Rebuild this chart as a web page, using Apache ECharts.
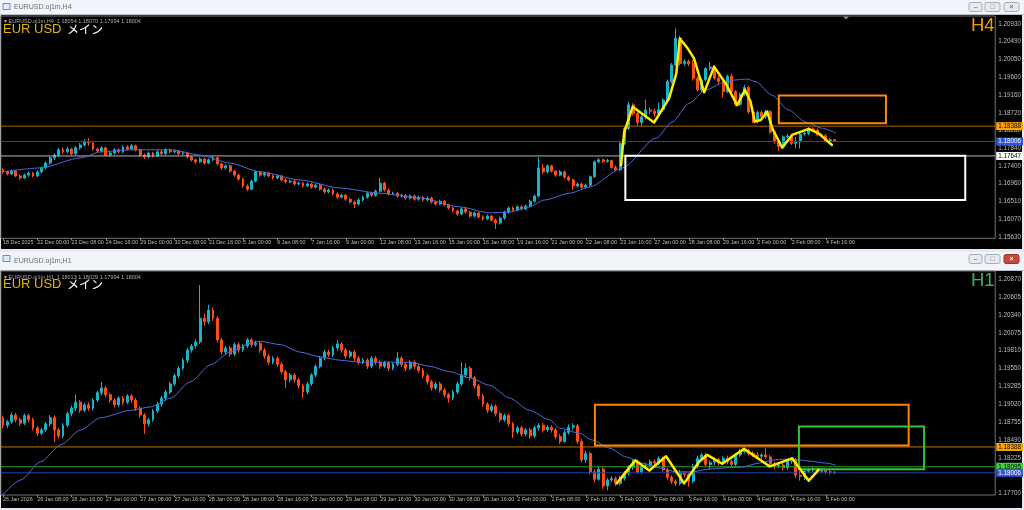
<!DOCTYPE html>
<html>
<head>
<meta charset="utf-8">
<script src="https://cdn.jsdelivr.net/npm/echarts@6/dist/echarts.min.js"></script>
<style>
html,body{margin:0;padding:0;background:#e6eaf0;}
#c{width:1024px;height:510px;}
</style>
</head>
<body>
<div id="c"></div>
<script>
// ===== EURUSD H4 =====
const h4Header = '\u25BE EURUSD.oj1m,H4  1.18054 1.18070 1.17994 1.18004';
const h4TimeLabels = ['18 Dec 2025','22 Dec 00:00','23 Dec 08:00','24 Dec 16:00','29 Dec 00:00','30 Dec 08:00','31 Dec 16:00','5 Jan 00:00','6 Jan 08:00','7 Jan 16:00','9 Jan 00:00','12 Jan 08:00','13 Jan 16:00','15 Jan 00:00','16 Jan 08:00','19 Jan 16:00','21 Jan 00:00','22 Jan 08:00','23 Jan 16:00','27 Jan 00:00','28 Jan 08:00','29 Jan 16:00','2 Feb 00:00','3 Feb 08:00','4 Feb 16:00'];
const h4PriceTicks = ['1.20930','1.20490','1.20050','1.19600','1.19160','1.18720','1.18280','1.17840','1.17400','1.16960','1.16510','1.16070','1.15630'];
// [open, close, low, high], one line per 8 bars (one time label)
const h4Bars = [
[1.1730,1.1725,1.1720,1.1734],[1.1725,1.1720,1.1716,1.1728],[1.1720,1.1727,1.1717,1.1731],[1.1727,1.1715,1.1712,1.1730],[1.1715,1.1710,1.1705,1.1719],[1.1710,1.1717,1.1707,1.1721],[1.1717,1.1722,1.1713,1.1726],[1.1722,1.1715,1.1711,1.1725],
[1.1715,1.1725,1.1712,1.1729],[1.1725,1.1735,1.1721,1.1738],[1.1735,1.1747,1.1731,1.1751],[1.1747,1.1760,1.1743,1.1764],[1.1760,1.1767,1.1755,1.1771],[1.1767,1.1780,1.1763,1.1785],[1.1780,1.1775,1.1770,1.1786],[1.1775,1.1782,1.1771,1.1788],
[1.1782,1.1770,1.1766,1.1785],[1.1770,1.1785,1.1767,1.1790],[1.1785,1.1792,1.1780,1.1797],[1.1792,1.1799,1.1788,1.1806],[1.1799,1.1797,1.1790,1.1809],[1.1797,1.1782,1.1778,1.1800],[1.1782,1.1777,1.1772,1.1786],[1.1777,1.1785,1.1773,1.1789],
[1.1785,1.1767,1.1763,1.1788],[1.1767,1.1772,1.1763,1.1776],[1.1772,1.1780,1.1768,1.1784],[1.1780,1.1775,1.1771,1.1784],[1.1775,1.1787,1.1772,1.1791],[1.1787,1.1782,1.1778,1.1791],[1.1782,1.1790,1.1779,1.1795],[1.1790,1.1780,1.1776,1.1793],
[1.1780,1.1767,1.1763,1.1783],[1.1767,1.1762,1.1757,1.1771],[1.1762,1.1772,1.1759,1.1776],[1.1772,1.1765,1.1761,1.1775],[1.1765,1.1775,1.1762,1.1779],[1.1775,1.1770,1.1766,1.1779],[1.1770,1.1780,1.1767,1.1784],[1.1780,1.1775,1.1771,1.1783],
[1.1775,1.1777,1.1771,1.1781],[1.1777,1.1770,1.1766,1.1780],[1.1770,1.1772,1.1766,1.1776],[1.1772,1.1762,1.1758,1.1775],[1.1762,1.1755,1.1751,1.1766],[1.1755,1.1750,1.1745,1.1758],[1.1750,1.1757,1.1747,1.1761],[1.1757,1.1747,1.1743,1.1760],
[1.1747,1.1755,1.1744,1.1759],[1.1755,1.1760,1.1751,1.1765],[1.1760,1.1745,1.1741,1.1763],[1.1745,1.1735,1.1730,1.1748],[1.1735,1.1740,1.1731,1.1744],[1.1740,1.1727,1.1723,1.1743],[1.1727,1.1717,1.1713,1.1730],[1.1717,1.1707,1.1703,1.1721],
[1.1707,1.1690,1.1685,1.1710],[1.1690,1.1682,1.1677,1.1694],[1.1682,1.1702,1.1679,1.1706],[1.1702,1.1725,1.1699,1.1729],[1.1725,1.1717,1.1713,1.1728],[1.1717,1.1722,1.1713,1.1726],[1.1722,1.1715,1.1711,1.1725],[1.1715,1.1710,1.1706,1.1719],
[1.1710,1.1715,1.1707,1.1719],[1.1715,1.1705,1.1701,1.1718],[1.1705,1.1700,1.1696,1.1709],[1.1700,1.1702,1.1697,1.1706],[1.1702,1.1695,1.1691,1.1705],[1.1695,1.1697,1.1692,1.1701],[1.1697,1.1690,1.1686,1.1700],[1.1690,1.1695,1.1687,1.1699],
[1.1695,1.1687,1.1683,1.1698],[1.1687,1.1692,1.1684,1.1696],[1.1692,1.1682,1.1678,1.1695],[1.1682,1.1675,1.1671,1.1686],[1.1675,1.1680,1.1672,1.1684],[1.1680,1.1670,1.1666,1.1683],[1.1670,1.1662,1.1658,1.1674],[1.1662,1.1667,1.1659,1.1671],
[1.1667,1.1657,1.1653,1.1670],[1.1657,1.1650,1.1646,1.1661],[1.1650,1.1645,1.1635,1.1654],[1.1645,1.1655,1.1641,1.1659],[1.1655,1.1662,1.1651,1.1666],[1.1662,1.1672,1.1658,1.1676],[1.1672,1.1667,1.1663,1.1676],[1.1667,1.1677,1.1663,1.1681],
[1.1677,1.1697,1.1674,1.1710],[1.1697,1.1680,1.1676,1.1700],[1.1680,1.1670,1.1666,1.1684],[1.1670,1.1672,1.1667,1.1676],[1.1672,1.1665,1.1661,1.1675],[1.1665,1.1667,1.1661,1.1671],[1.1667,1.1660,1.1656,1.1670],[1.1660,1.1665,1.1657,1.1669],
[1.1665,1.1657,1.1653,1.1668],[1.1657,1.1662,1.1654,1.1666],[1.1662,1.1655,1.1651,1.1665],[1.1655,1.1660,1.1652,1.1664],[1.1660,1.1650,1.1646,1.1663],[1.1650,1.1645,1.1641,1.1654],[1.1645,1.1652,1.1642,1.1656],[1.1652,1.1643,1.1639,1.1655],
[1.1643,1.1635,1.1631,1.1646],[1.1635,1.1628,1.1624,1.1639],[1.1628,1.1620,1.1616,1.1631],[1.1620,1.1633,1.1617,1.1637],[1.1633,1.1625,1.1621,1.1636],[1.1625,1.1615,1.1611,1.1628],[1.1615,1.1623,1.1612,1.1627],[1.1623,1.1613,1.1609,1.1626],
[1.1613,1.1608,1.1604,1.1617],[1.1608,1.1615,1.1605,1.1619],[1.1615,1.1605,1.1601,1.1618],[1.1605,1.1598,1.1583,1.1609],[1.1598,1.1610,1.1594,1.1614],[1.1610,1.1625,1.1606,1.1629],[1.1625,1.1635,1.1621,1.1639],[1.1635,1.1630,1.1626,1.1639],
[1.1630,1.1638,1.1627,1.1642],[1.1638,1.1633,1.1629,1.1642],[1.1633,1.1640,1.1630,1.1644],[1.1640,1.1652,1.1637,1.1656],[1.1652,1.1665,1.1648,1.1669],[1.1665,1.1735,1.1662,1.1762],[1.1735,1.1725,1.1720,1.1745],[1.1725,1.1740,1.1721,1.1744],
[1.1740,1.1727,1.1723,1.1743],[1.1727,1.1717,1.1713,1.1730],[1.1717,1.1725,1.1714,1.1729],[1.1725,1.1712,1.1708,1.1728],[1.1712,1.1705,1.1701,1.1716],[1.1705,1.1690,1.1680,1.1708],[1.1690,1.1695,1.1686,1.1699],[1.1695,1.1687,1.1683,1.1698],
[1.1687,1.1692,1.1684,1.1696],[1.1692,1.1713,1.1688,1.1716],[1.1713,1.1750,1.1710,1.1753],[1.1750,1.1755,1.1747,1.1759],[1.1755,1.1751,1.1747,1.1758],[1.1751,1.1753,1.1748,1.1757],[1.1753,1.1736,1.1733,1.1756],[1.1736,1.1730,1.1726,1.1741],
[1.1730,1.1796,1.1727,1.1799],[1.1796,1.1833,1.1792,1.1837],[1.1833,1.1892,1.1829,1.1899],[1.1892,1.1870,1.1865,1.1896],[1.1870,1.1848,1.1840,1.1874],[1.1848,1.1862,1.1838,1.1866],[1.1862,1.1879,1.1856,1.1905],[1.1879,1.1876,1.1868,1.1885],
[1.1876,1.1870,1.1862,1.1882],[1.1870,1.1880,1.1866,1.1898],[1.1880,1.1904,1.1874,1.1908],[1.1904,1.1950,1.1900,1.1955],[1.1950,1.1991,1.1945,1.1996],[1.1991,1.2058,1.1988,1.2082],[1.2058,1.1995,1.1990,1.2064],[1.1995,1.2000,1.1990,1.2005],
[1.2000,1.1994,1.1988,1.2004],[1.1994,1.1958,1.1952,1.2004],[1.1958,1.1929,1.1925,1.1962],[1.1929,1.1954,1.1924,1.1958],[1.1954,1.1982,1.1950,1.1986],[1.1982,1.1986,1.1978,1.1998],[1.1986,1.1958,1.1954,1.1990],[1.1958,1.1950,1.1944,1.1964],
[1.1950,1.1925,1.1910,1.1954],[1.1925,1.1963,1.1921,1.1967],[1.1963,1.1925,1.1920,1.1970],[1.1925,1.1893,1.1888,1.1929],[1.1893,1.1918,1.1889,1.1922],[1.1918,1.1935,1.1913,1.1942],[1.1935,1.1874,1.1869,1.1939],[1.1874,1.1850,1.1846,1.1878],
[1.1850,1.1873,1.1846,1.1877],[1.1873,1.1862,1.1858,1.1878],[1.1862,1.1875,1.1857,1.1880],[1.1875,1.1824,1.1820,1.1879],[1.1824,1.1800,1.1795,1.1828],[1.1800,1.1788,1.1777,1.1803],[1.1788,1.1812,1.1785,1.1816],[1.1812,1.1814,1.1808,1.1819],
[1.1814,1.1796,1.1792,1.1818],[1.1796,1.1800,1.1784,1.1812],[1.1800,1.1819,1.1783,1.1823],[1.1819,1.1821,1.1815,1.1825],[1.1821,1.1832,1.1817,1.1836],[1.1832,1.1829,1.1825,1.1836],[1.1829,1.1817,1.1813,1.1833],[1.1817,1.1815,1.1811,1.1821],
[1.1815,1.1802,1.1798,1.1819],[1.1802,1.1805,1.1799,1.1810],[1.18054,1.18004,1.17994,1.18070]
];
// moving average: [bar position, price]
const h4Ma = [[0,1.1725],[8.8,1.1735],[18.1,1.1760],[22.8,1.1775],[29.8,1.1780],[39.1,1.1780],[46,1.1767],[53,1.1747],[60,1.1725],[69.3,1.1705],[78.6,1.1685],[87.9,1.1672],[97.2,1.1660],[106.6,1.1638],[113.5,1.1623],[118.2,1.1625],[122.8,1.1638],[126.3,1.1655],[132.2,1.1672],[136.8,1.1687],[144.5,1.1735],[152.4,1.1809],[156.1,1.1849],[160.1,1.1896],[164,1.1929],[167.8,1.1946],[171,1.1954],[173.6,1.1956],[175.7,1.1949],[179.4,1.1916],[183.3,1.1879],[187.3,1.1849],[191,1.1834],[194.3,1.1822]];
// hand-drawn swing line
const h4Zigzag = [[144.2,1.1742],[144.9,1.1822],[146.9,1.1887],[151.9,1.1848],[155.4,1.1908],[157.1,1.1970],[157.9,1.2057],[159.7,1.2033],[161.2,1.2008],[163.6,1.1923],[165.9,1.1987],[168.6,1.1945],[171.3,1.1891],[173.1,1.1929],[174.4,1.1900],[175.4,1.1850],[176.8,1.1854],[178.3,1.1875],[179.5,1.1833],[181.8,1.1785],[184.1,1.1817],[188.0,1.1832],[190.3,1.1821],[193.4,1.1792]];
// zones: [bar from, price, bar to, price]
const h4OrangeBox = [181.0, 1.1915, 206.0, 1.1846];
const h4WhiteBox = [145.2, 1.1765, 224.5, 1.1655];
const h4OrangeLevel = 1.18388, h4BlueLevel = 1.18006, h4WhiteLevel = 1.17647;

// ===== EURUSD H1 =====
const h1Header = '\u25BE EURUSD.oj1m,H1  1.18013 1.18029 1.17994 1.18004';
const h1TimeLabels = ['26 Jan 2026','26 Jan 08:00','26 Jan 16:00','27 Jan 00:00','27 Jan 08:00','27 Jan 16:00','28 Jan 00:00','28 Jan 08:00','28 Jan 16:00','29 Jan 00:00','29 Jan 08:00','29 Jan 16:00','30 Jan 00:00','30 Jan 08:00','30 Jan 16:00','2 Feb 00:00','2 Feb 08:00','2 Feb 16:00','3 Feb 00:00','3 Feb 08:00','3 Feb 16:00','4 Feb 00:00','4 Feb 08:00','4 Feb 16:00','5 Feb 00:00'];
const h1PriceTicks = ['1.20870','1.20605','1.20340','1.20075','1.19810','1.19550','1.19285','1.19020','1.18755','1.18490','1.18225','1.17700'];
const h1Bars = [
[1.1882,1.1871,1.1866,1.1885],[1.1871,1.1876,1.1867,1.1879],[1.1876,1.1886,1.1873,1.1890],[1.1886,1.1879,1.1875,1.1889],[1.1879,1.1874,1.1870,1.1882],[1.1874,1.1885,1.1871,1.1888],[1.1885,1.1879,1.1875,1.1888],[1.1879,1.1867,1.1863,1.1882],
[1.1867,1.1859,1.1855,1.1870],[1.1859,1.1864,1.1856,1.1867],[1.1864,1.1873,1.1861,1.1876],[1.1873,1.1882,1.1869,1.1886],[1.1882,1.1864,1.1846,1.1885],[1.1864,1.1855,1.1851,1.1867],[1.1855,1.1871,1.1852,1.1874],[1.1871,1.1888,1.1868,1.1891],
[1.1888,1.1896,1.1884,1.1900],[1.1896,1.1905,1.1892,1.1916],[1.1905,1.1893,1.1889,1.1908],[1.1893,1.1901,1.1890,1.1904],[1.1901,1.1896,1.1892,1.1905],[1.1896,1.1908,1.1893,1.1911],[1.1908,1.1919,1.1905,1.1922],[1.1919,1.1926,1.1915,1.1935],
[1.1926,1.1916,1.1912,1.1929],[1.1916,1.1908,1.1904,1.1919],[1.1908,1.1901,1.1897,1.1911],[1.1901,1.1911,1.1898,1.1914],[1.1911,1.1905,1.1901,1.1914],[1.1905,1.1914,1.1902,1.1917],[1.1914,1.1908,1.1904,1.1917],[1.1908,1.1896,1.1892,1.1911],
[1.1896,1.1886,1.1882,1.1899],[1.1886,1.1873,1.1858,1.1889],[1.1873,1.1879,1.1869,1.1882],[1.1879,1.1892,1.1876,1.1895],[1.1892,1.1902,1.1889,1.1905],[1.1902,1.1911,1.1898,1.1914],[1.1911,1.1920,1.1907,1.1923],[1.1920,1.1932,1.1917,1.1935],
[1.1932,1.1944,1.1929,1.1947],[1.1944,1.1955,1.1941,1.1958],[1.1955,1.1967,1.1952,1.1970],[1.1967,1.1982,1.1963,1.1985],[1.1982,1.1988,1.1978,1.1991],[1.1988,1.1994,1.1984,1.1998],[1.1994,1.2029,1.1991,1.2078],[1.2029,1.2024,1.2018,1.2036],
[1.2024,1.2041,1.2020,1.2049],[1.2041,1.2029,1.2025,1.2045],[1.2029,1.1997,1.1993,1.2032],[1.1997,1.1979,1.1975,1.2000],[1.1979,1.1985,1.1975,1.1988],[1.1985,1.1976,1.1972,1.1988],[1.1976,1.1990,1.1973,1.1993],[1.1990,1.1982,1.1978,1.1993],
[1.1982,1.1988,1.1979,1.1991],[1.1988,1.1997,1.1985,1.2000],[1.1997,1.1990,1.1986,1.2000],[1.1990,1.1992,1.1987,1.1996],[1.1992,1.1982,1.1978,1.1995],[1.1982,1.1973,1.1969,1.1985],[1.1973,1.1964,1.1960,1.1976],[1.1964,1.1970,1.1961,1.1973],
[1.1970,1.1961,1.1957,1.1973],[1.1961,1.1950,1.1946,1.1964],[1.1950,1.1938,1.1926,1.1953],[1.1938,1.1945,1.1934,1.1948],[1.1945,1.1938,1.1934,1.1948],[1.1938,1.1929,1.1925,1.1941],[1.1929,1.1920,1.1911,1.1932],[1.1920,1.1932,1.1917,1.1935],
[1.1932,1.1945,1.1929,1.1948],[1.1945,1.1958,1.1942,1.1961],[1.1958,1.1970,1.1955,1.1973],[1.1970,1.1979,1.1967,1.1982],[1.1979,1.1975,1.1971,1.1983],[1.1975,1.1985,1.1972,1.1988],[1.1985,1.1991,1.1981,1.1997],[1.1991,1.1982,1.1978,1.1994],
[1.1982,1.1973,1.1969,1.1985],[1.1973,1.1979,1.1970,1.1982],[1.1979,1.1970,1.1966,1.1982],[1.1970,1.1964,1.1960,1.1973],[1.1964,1.1967,1.1961,1.1970],[1.1967,1.1958,1.1954,1.1970],[1.1958,1.1970,1.1955,1.1973],[1.1970,1.1964,1.1960,1.1973],
[1.1964,1.1958,1.1954,1.1967],[1.1958,1.1963,1.1955,1.1966],[1.1963,1.1955,1.1951,1.1966],[1.1955,1.1961,1.1952,1.1964],[1.1961,1.1970,1.1958,1.1979],[1.1970,1.1961,1.1957,1.1973],[1.1961,1.1955,1.1951,1.1964],[1.1955,1.1964,1.1952,1.1967],
[1.1964,1.1958,1.1954,1.1967],[1.1958,1.1952,1.1948,1.1961],[1.1952,1.1944,1.1940,1.1955],[1.1944,1.1935,1.1931,1.1947],[1.1935,1.1926,1.1922,1.1938],[1.1926,1.1932,1.1923,1.1935],[1.1932,1.1923,1.1919,1.1935],[1.1923,1.1916,1.1912,1.1926],
[1.1916,1.1911,1.1904,1.1919],[1.1911,1.1920,1.1908,1.1923],[1.1920,1.1932,1.1917,1.1935],[1.1932,1.1945,1.1929,1.1964],[1.1945,1.1955,1.1941,1.1962],[1.1955,1.1941,1.1937,1.1958],[1.1941,1.1929,1.1925,1.1944],[1.1929,1.1914,1.1910,1.1932],
[1.1914,1.1902,1.1898,1.1917],[1.1902,1.1893,1.1889,1.1905],[1.1893,1.1899,1.1890,1.1902],[1.1899,1.1888,1.1884,1.1902],[1.1888,1.1879,1.1875,1.1891],[1.1879,1.1885,1.1876,1.1888],[1.1885,1.1873,1.1869,1.1888],[1.1873,1.1861,1.1852,1.1876],
[1.1861,1.1867,1.1858,1.1870],[1.1867,1.1858,1.1854,1.1870],[1.1858,1.1864,1.1855,1.1867],[1.1864,1.1855,1.1851,1.1867],[1.1855,1.1867,1.1852,1.1870],[1.1867,1.1871,1.1863,1.1874],[1.1871,1.1864,1.1860,1.1874],[1.1864,1.1868,1.1861,1.1871],
[1.1868,1.1864,1.1860,1.1871],[1.1864,1.1854,1.1850,1.1867],[1.1854,1.1847,1.1843,1.1858],[1.1847,1.1860,1.1845,1.1864],[1.1860,1.1868,1.1857,1.1872],[1.1868,1.1870,1.1864,1.1874],[1.1870,1.1847,1.1843,1.1873],[1.1847,1.1820,1.1816,1.1851],
[1.1820,1.1829,1.1815,1.1833],[1.1829,1.1802,1.1798,1.1832],[1.1802,1.1791,1.1786,1.1806],[1.1791,1.1806,1.1789,1.1810],[1.1806,1.1781,1.1777,1.1809],[1.1781,1.1790,1.1775,1.1793],[1.1790,1.1792,1.1787,1.1796],[1.1792,1.1785,1.1781,1.1795],
[1.1785,1.1792,1.1782,1.1796],[1.1792,1.1800,1.1789,1.1803],[1.1800,1.1809,1.1797,1.1812],[1.1809,1.1817,1.1805,1.1821],[1.1817,1.1802,1.1799,1.1820],[1.1802,1.1810,1.1799,1.1813],[1.1810,1.1812,1.1807,1.1815],[1.1812,1.1817,1.1809,1.1820],
[1.1817,1.1815,1.1810,1.1820],[1.1815,1.1822,1.1812,1.1825],[1.1822,1.1805,1.1802,1.1825],[1.1805,1.1794,1.1790,1.1808],[1.1794,1.1788,1.1784,1.1797],[1.1788,1.1785,1.1781,1.1791],[1.1785,1.1800,1.1782,1.1805],[1.1800,1.1798,1.1794,1.1803],
[1.1798,1.1788,1.1780,1.1800],[1.1788,1.1810,1.1785,1.1814],[1.1810,1.1822,1.1807,1.1826],[1.1822,1.1827,1.1818,1.1830],[1.1827,1.1813,1.1809,1.1830],[1.1813,1.1816,1.1806,1.1819],[1.1816,1.1820,1.1812,1.1823],[1.1820,1.1815,1.1811,1.1823],
[1.1815,1.1822,1.1812,1.1825],[1.1822,1.1817,1.1813,1.1826],[1.1817,1.1813,1.1809,1.1820],[1.1813,1.1827,1.1810,1.1830],[1.1827,1.1832,1.1824,1.1836],[1.1832,1.1834,1.1829,1.1837],[1.1834,1.1829,1.1826,1.1836],[1.1829,1.1827,1.1824,1.1833],
[1.1827,1.1825,1.1822,1.1831],[1.1825,1.1827,1.1821,1.1830],[1.1827,1.1824,1.1821,1.1837],[1.1824,1.1814,1.1810,1.1827],[1.1814,1.1811,1.1806,1.1817],[1.1811,1.1812,1.1807,1.1816],[1.1812,1.1808,1.1804,1.1816],[1.1808,1.1818,1.1805,1.1822],
[1.1818,1.1820,1.1814,1.1824],[1.1820,1.1797,1.1793,1.1823],[1.1797,1.1795,1.1789,1.1803],[1.1795,1.1803,1.1790,1.1806],[1.1803,1.1805,1.1800,1.1808],[1.1805,1.1806,1.1802,1.1809],[1.1806,1.1803,1.1800,1.1808],[1.1803,1.1804,1.1800,1.1807],
[1.1804,1.1802,1.1799,1.1806],[1.1802,1.18013,1.1798,1.1805],[1.18013,1.18004,1.17994,1.18029]
];
const h1Ma = [[-0.5,1.1765],[4.15,1.1790],[8.8,1.1817],[13.5,1.1842],[18.1,1.1864],[22.8,1.1882],[29.75,1.1893],[34.4,1.1898],[39.1,1.1911],[43.7,1.1935],[48.4,1.1960],[53,1.1979],[57.7,1.1992],[60,1.1995],[64.7,1.1990],[69.3,1.1979],[74,1.1972],[78.6,1.1967],[83.3,1.1964],[87.9,1.1964],[94.9,1.1964],[99.6,1.1958],[104.2,1.1950],[108.9,1.1941],[113.5,1.1930],[118.2,1.1911],[122.8,1.1893],[127.5,1.1879],[129.8,1.1867],[134.5,1.1859],[137.5,1.1849],[141.5,1.1837],[145.4,1.1824],[149.1,1.1815],[153.1,1.1808],[157.1,1.1802],[160.8,1.1802],[164.7,1.1806],[168.7,1.1808],[172.4,1.1809],[176.4,1.1815],[180.3,1.1820],[184,1.1821],[188,1.1818],[191.9,1.1815],[194.3,1.1812]];
const h1Zigzag = [[143.2,1.1785],[147.5,1.1819],[150.8,1.1804],[154.7,1.1825],[158.9,1.1785],[162.4,1.1817],[164.3,1.1827],[167.8,1.1814],[172.9,1.1836],[178.9,1.1810],[184.1,1.1822],[188.0,1.1789],[190.3,1.1805]];
const h1OrangeBox = [138.1, 1.1901, 211.3, 1.1841];
const h1GreenBox = [185.7, 1.1869, 214.9, 1.1806];
const h1OrangeLevel = 1.18388, h1GreenLevel = 1.18095, h1BlueLevel = 1.18006;

// ===== layout & style =====
const SLOTS = 232;          // visible bar slots incl. right shift
const PLOT_W = 996;
const FONT = '"Liberation Sans", Arial, sans-serif';
const AXIS_TEXT = '#bdbdbd';
const BULL = '#16b3c9', BEAR = '#ff4d17';
const MA_COLOR = '#4a6ce2';
const ZIG_COLOR = '#ffee00';

const slotNames = Array.from({length: SLOTS}, (_, i) => String(i));
const grids = [], xAxes = [], yAxes = [], series = [];

function boxSeries(k, box, color) {
  return {
    type: 'custom', xAxisIndex: k * 2 + 1, yAxisIndex: k, data: [box], silent: true, clip: false, z: 4,
    encode: {x: [0, 2], y: [1, 3]},
    renderItem: (params, api) => {
      const a = api.coord([api.value(0), api.value(1)]);
      const b = api.coord([api.value(2), api.value(3)]);
      return {type: 'rect',
        shape: {x: Math.min(a[0], b[0]), y: Math.min(a[1], b[1]), width: Math.abs(b[0] - a[0]), height: Math.abs(b[1] - a[1])},
        style: {fill: 'none', stroke: color, lineWidth: 2}};
    }
  };
}

// horizontal price level across the plot, with its price tag on the axis
function levelSeries(k, value, line, tagBg, tagText) {
  return {
    type: 'line', xAxisIndex: k * 2 + 1, yAxisIndex: k, silent: true, z: 3, symbol: 'none',
    data: [[-0.5, value], [SLOTS - 0.5, value]],
    lineStyle: {color: line, width: 1},
    endLabel: {show: true, distance: 1, formatter: value.toFixed(5),
      backgroundColor: tagBg, color: tagText, fontSize: 6.3, fontFamily: FONT,
      padding: [1, 2, 0, 2], lineHeight: 7}
  };
}

function panel(k, p) {
  const showAt = (i) => i % 8 === 0 && i / 8 < p.timeLabels.length;
  grids.push({left: 0, top: p.top, width: PLOT_W, height: p.height, show: true,
    borderColor: '#747474', borderWidth: 1, backgroundColor: 'transparent'});
  xAxes.push({type: 'category', gridIndex: k, data: slotNames, boundaryGap: true,
    axisLine: {show: false},
    axisTick: {show: true, alignWithLabel: true, interval: showAt, length: 2, lineStyle: {color: '#8c8c8c'}},
    axisLabel: {show: true, interval: showAt, formatter: (v, i) => p.timeLabels[i / 8] || '',
      align: 'left', color: AXIS_TEXT, fontSize: 5.4, fontFamily: FONT, margin: 2},
    splitLine: {show: false}});
  xAxes.push({type: 'value', gridIndex: k, min: -0.5, max: SLOTS - 0.5, show: false});
  const ticks = p.priceTicks.map(Number);
  yAxes.push({type: 'value', gridIndex: k, position: 'right', min: p.yMin, max: p.yMax,
    axisLine: {show: false},
    axisTick: {show: false},
    axisLabel: {show: true, customValues: ticks, formatter: (v) => v.toFixed(5),
      color: AXIS_TEXT, fontSize: 6.3, fontFamily: FONT, margin: 3},
    splitLine: {show: false}});

  series.push({type: 'candlestick', xAxisIndex: k * 2, yAxisIndex: k, data: p.bars, barWidth: 2.4, silent: true,
    itemStyle: {color: BULL, color0: BEAR, borderColor: BULL, borderColor0: BEAR, borderWidth: 1}});
  p.levels.forEach(l => series.push(levelSeries(k, l[0], l[1], l[2], l[3])));
  series.push({type: 'line', xAxisIndex: k * 2 + 1, yAxisIndex: k, data: p.ma, symbol: 'none',
    smooth: 0.25, smoothMonotone: 'x', silent: true, z: 3,
    lineStyle: {color: MA_COLOR, width: 1}});
  p.boxes.forEach(b => series.push(boxSeries(k, b[0], b[1])));
  series.push({type: 'line', xAxisIndex: k * 2 + 1, yAxisIndex: k, data: p.zigzag, symbol: 'none',
    silent: true, z: 5, lineStyle: {color: ZIG_COLOR, width: 2.5, join: 'round', cap: 'round'}});
}

panel(0, {top: 16, height: 222.3, yMin: 1.15598, yMax: 1.21129,
  bars: h4Bars, timeLabels: h4TimeLabels, priceTicks: h4PriceTicks, ma: h4Ma, zigzag: h4Zigzag,
  boxes: [[h4OrangeBox, '#ff8a00'], [h4WhiteBox, '#ffffff']],
  levels: [[h4OrangeLevel, '#a86400', '#ffa500', '#000000'],
           [h4BlueLevel, '#2442a8', '#3355d8', '#ffffff'],
           [h4WhiteLevel, '#b4b4b4', '#ffffff', '#000000']]});

panel(1, {top: 271, height: 224, yMin: 1.17678, yMax: 1.20988,
  bars: h1Bars, timeLabels: h1TimeLabels, priceTicks: h1PriceTicks, ma: h1Ma, zigzag: h1Zigzag,
  boxes: [[h1OrangeBox, '#ff8400'], [h1GreenBox, '#34c534']],
  levels: [[h1OrangeLevel, '#b87400', '#ffa500', '#000000'],
           [h1GreenLevel, '#2a9f2a', '#3fd23f', '#000000'],
           [h1BlueLevel, '#2442a8', '#3355d8', '#ffffff']]});

// ===== window frames and captions =====
function windowFrame(y0, barH, bodyBottom, title, closeRed) {
  const els = [];
  els.push({type: 'rect', z: -10, silent: true, shape: {x: 0, y: y0, width: 1024, height: barH}, style: {fill: '#f1f4f8'}});
  els.push({type: 'line', z: -9, silent: true, shape: {x1: 0, y1: y0 + barH - 0.5, x2: 1024, y2: y0 + barH - 0.5}, style: {stroke: '#b7bfca', lineWidth: 1}});
  els.push({type: 'rect', z: -9, silent: true, shape: {x: 3, y: y0 + 3.5, width: 7, height: 6}, style: {fill: '#dfeaf8', stroke: '#6690c4', lineWidth: 1}});
  els.push({type: 'text', z: -9, silent: true, x: 14, y: y0 + barH / 2, style: {text: title, fill: '#6b6b6b', font: '7px ' + FONT, textVerticalAlign: 'middle'}});
  const btns = [[969, 13, '\u2013'], [985, 15, '\u25A1'], [1004, 15, '\u00D7']];
  btns.forEach((b, j) => {
    const red = closeRed && j === 2;
    els.push({type: 'rect', z: -9, silent: true, shape: {x: b[0], y: y0 + 2.5, width: b[1], height: 9, r: 2},
      style: {fill: red ? '#c9483c' : '#e7ebf0', stroke: red ? '#9e3025' : '#a4adb9', lineWidth: 1}});
    els.push({type: 'text', z: -8, silent: true, x: b[0] + b[1] / 2, y: y0 + 7,
      style: {text: b[2], fill: red ? '#ffffff' : '#7a7a7a', font: 'bold 7px ' + FONT, textAlign: 'center', textVerticalAlign: 'middle'}});
  });
  els.push({type: 'rect', z: -10, silent: true, shape: {x: 1, y: y0 + barH, width: 1021, height: bodyBottom - y0 - barH}, style: {fill: '#000000'}});
  return els;
}

function captions(yHeader, yMain, tf, tfColor) {
  return [
    {type: 'text', z: 20, silent: true, x: 4, y: yHeader, style: {text: tf.header, fill: '#a9a9a9', font: '5.5px ' + FONT, textVerticalAlign: 'middle'}},
    {type: 'text', z: 20, silent: true, x: 3, y: yMain, style: {text: 'EUR USD', fill: '#e6b400', font: '13px ' + FONT, textVerticalAlign: 'middle'}},
    {type: 'text', z: 20, silent: true, x: 67, y: yMain, style: {text: 'メイン', fill: '#ffffff', font: '12px "Noto Sans CJK JP"', textVerticalAlign: 'middle'}},
    {type: 'text', z: 20, silent: true, x: 971, y: yMain - 3.5, style: {text: tf.name, fill: tfColor, font: '18.5px ' + FONT, textVerticalAlign: 'middle'}}
  ];
}

const graphic = [].concat(
  windowFrame(0, 15, 249, 'EURUSD.oj1m,H4', false),
  windowFrame(252, 19, 508, 'EURUSD.oj1m,H1', true),
  captions(21.7, 29.3, {header: h4Header, name: 'H4'}, '#f09c00'),
  captions(277.2, 284, {header: h1Header, name: 'H1'}, '#31b45c'),
  [{type: 'polygon', z: 20, silent: true, shape: {points: [[843, 16.5], [849, 16.5], [846, 19.5]]}, style: {fill: '#8a8a8a'}}]
);

const chart = echarts.init(document.getElementById('c'), null, {renderer: 'canvas', width: 1024, height: 510});
chart.setOption({
  animation: false,
  backgroundColor: '#e6eaf0',
  grid: grids, xAxis: xAxes, yAxis: yAxes, series: series,
  graphic: graphic
});
</script>
</body>
</html>
